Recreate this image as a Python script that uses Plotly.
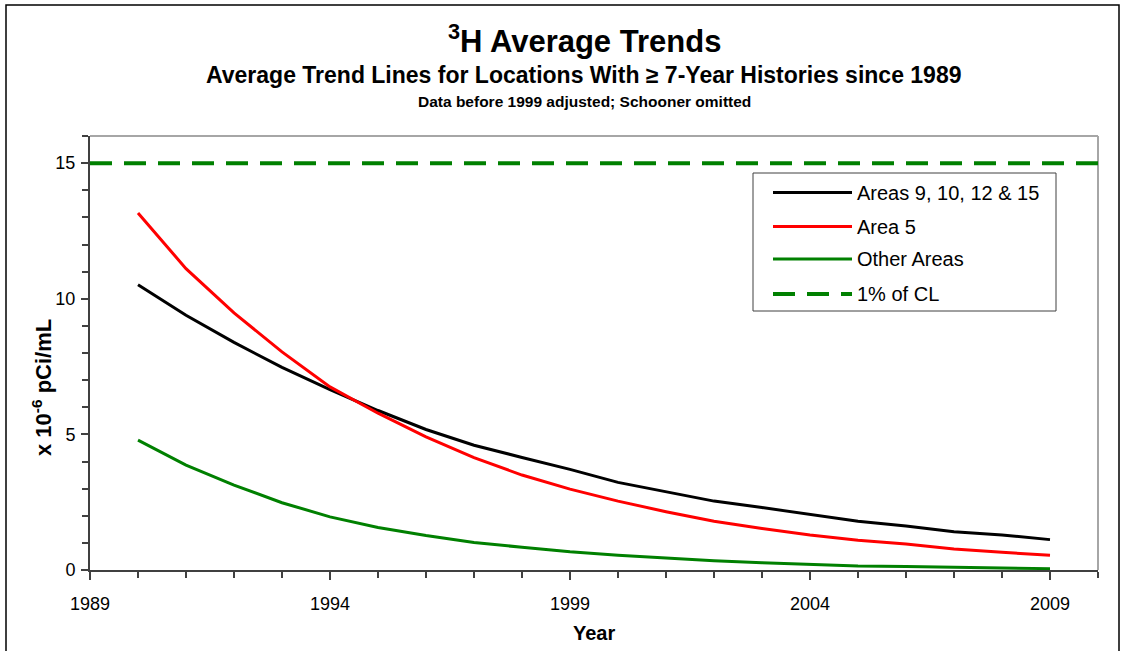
import plotly.graph_objects as go

# ---- data ----
years = [1990, 1991, 1992, 1993, 1994, 1995, 1996, 1997, 1998, 1999,
         2000, 2001, 2002, 2003, 2004, 2005, 2006, 2007, 2008, 2009]
areas_9_10_12_15 = [10.52, 9.39, 8.39, 7.47, 6.65, 5.88, 5.18, 4.60, 4.15, 3.71,
                    3.23, 2.88, 2.54, 2.30, 2.05, 1.80, 1.62, 1.41, 1.29, 1.12]
area_5 = [13.16, 11.11, 9.48, 8.04, 6.75, 5.78, 4.91, 4.14, 3.50, 2.98,
          2.54, 2.15, 1.80, 1.53, 1.29, 1.10, 0.96, 0.77, 0.65, 0.54]
other_areas = [4.79, 3.87, 3.13, 2.48, 1.96, 1.57, 1.27, 1.01, 0.84, 0.67,
               0.54, 0.43, 0.34, 0.27, 0.20, 0.15, 0.13, 0.10, 0.09, 0.05]
cl_years = [1989, 2010]
cl_values = [15, 15]

series_names = ["Areas 9, 10, 12 & 15", "Area 5", "Other Areas", "1% of CL"]
series_colors = ["#000000", "#ff0000", "#008000", "#008000"]

# ---- layout geometry (pixels) ----
W, H = 1125, 651
L, R, T, B = 90, 27, 136, 81
PW, PH = W - L - R, H - T - B


def px(x):
    return (x - L) / PW


def py(y):
    return (H - B - y) / PH


FONT = "Liberation Sans, Arial, sans-serif"

fig = go.Figure()
for vals, name, col in zip([areas_9_10_12_15, area_5, other_areas], series_names[:3], series_colors[:3]):
    fig.add_trace(go.Scatter(x=years, y=vals, mode="lines", name=name,
                             line=dict(color=col, width=3), showlegend=False))
fig.add_trace(go.Scatter(x=cl_years, y=cl_values, mode="lines", name=series_names[3],
                         line=dict(color=series_colors[3], width=4, dash="22px,12px"),
                         showlegend=False, cliponaxis=False))

shapes = []
annotations = []

# plot border (top/right gray)
shapes.append(dict(type="line", xref="paper", yref="paper", x0=0, x1=1, y0=1, y1=1,
                   line=dict(color="#a6a6a6", width=2), layer="below"))
shapes.append(dict(type="line", xref="paper", yref="paper", x0=1, x1=1, y0=0, y1=1,
                   line=dict(color="#a6a6a6", width=2), layer="below"))
# outer frame
shapes.append(dict(type="rect", xref="paper", yref="paper",
                   x0=px(6), x1=px(1119), y0=py(5), y1=py(700),
                   line=dict(color="#000000", width=1.5)))

# manual legend
shapes.append(dict(type="rect", xref="paper", yref="paper",
                   x0=px(753), x1=px(1056), y0=py(173), y1=py(311),
                   line=dict(color="#404040", width=1), fillcolor="white", layer="below"))
leg_y = [192.5, 226.5, 259, 294]
for i, (name, col) in enumerate(zip(series_names, series_colors)):
    dash = "solid" if i < 3 else "22px,12px"
    shapes.append(dict(type="line", xref="paper", yref="paper",
                       x0=px(773), x1=px(852), y0=py(leg_y[i]), y1=py(leg_y[i]),
                       line=dict(color=col, width=3 if i < 3 else 4, dash=dash)))
    annotations.append(dict(xref="paper", yref="paper", x=px(855), y=py(leg_y[i]),
                            text=name, showarrow=False, xanchor="left", yanchor="middle",
                            font=dict(family=FONT, size=20, color="#000000")))

# titles
annotations.append(dict(xref="paper", yref="paper", x=px(584), y=py(39),
                        text="<sup>3</sup>H Average Trends", showarrow=False,
                        xanchor="center", yanchor="middle",
                        font=dict(family=FONT, size=31, color="#000000", weight="bold")))
annotations.append(dict(xref="paper", yref="paper", x=px(584), y=py(75),
                        text="Average Trend Lines for Locations With \u2265 7-Year Histories since 1989",
                        showarrow=False, xanchor="center", yanchor="middle",
                        font=dict(family=FONT, size=23, color="#000000", weight="bold")))
annotations.append(dict(xref="paper", yref="paper", x=px(584), y=py(101),
                        text="Data before 1999 adjusted; Schooner omitted",
                        showarrow=False, xanchor="center", yanchor="middle",
                        font=dict(family=FONT, size=15.5, color="#000000", weight="bold")))
# axis titles
annotations.append(dict(xref="paper", yref="paper", x=px(42), y=py(388),
                        text="x 10<sup>-6</sup> pCi/mL", showarrow=False, textangle=-90,
                        xanchor="center", yanchor="middle",
                        font=dict(family=FONT, size=22, color="#000000", weight="bold")))
annotations.append(dict(xref="paper", yref="paper", x=px(594), y=py(633),
                        text="Year", showarrow=False, xanchor="center", yanchor="middle",
                        font=dict(family=FONT, size=20, color="#000000", weight="bold")))

fig.update_layout(
    width=W, height=H,
    margin=dict(l=L, r=R, t=T, b=B),
    paper_bgcolor="white", plot_bgcolor="white",
    showlegend=False,
    shapes=shapes, annotations=annotations,
    xaxis=dict(range=[1989, 2010], tick0=1989, dtick=5, showgrid=False, zeroline=False,
               showline=True, linecolor="#404040", linewidth=2,
               ticks="outside", ticklen=8, tickwidth=1.5, tickcolor="#404040",
               ticklabelstandoff=8,
               tickfont=dict(family=FONT, size=18, color="#000000"),
               minor=dict(dtick=1, tick0=1989, ticks="outside", ticklen=6,
                          tickwidth=1.5, tickcolor="#404040", showgrid=False)),
    yaxis=dict(range=[0, 16], tick0=0, dtick=5, showgrid=False, zeroline=False,
               showline=True, linecolor="#404040", linewidth=2,
               ticks="outside", ticklen=7, tickwidth=1.5, tickcolor="#404040",
               ticklabelstandoff=2,
               tickfont=dict(family=FONT, size=18, color="#000000"),
               minor=dict(dtick=1, tick0=0, ticks="outside", ticklen=6,
                          tickwidth=1.5, tickcolor="#404040", showgrid=False)),
)

fig.write_html("out.html", config={"displayModeBar": False},
               post_script="document.body.style.margin='0';document.body.style.overflow='hidden';")
